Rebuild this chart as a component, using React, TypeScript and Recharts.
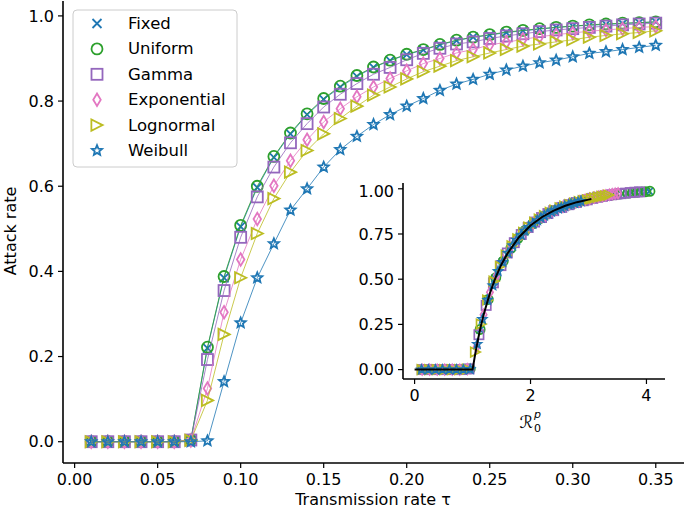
import React from "react";
import { ScatterChart, Scatter, XAxis, YAxis } from "recharts";

// transmission rate grid
const tau = [
  0.01, 0.02, 0.03, 0.04, 0.05, 0.06, 0.07, 0.08, 0.09, 0.1, 0.11, 0.12, 0.13, 0.14, 0.15, 0.16, 0.17, 0.18,
  0.19, 0.2, 0.21, 0.22, 0.23, 0.24, 0.25, 0.26, 0.27, 0.28, 0.29, 0.3, 0.31, 0.32, 0.33, 0.34, 0.35,
];

// attack rate per distribution
const fixed = [
  0, 0, 0, 0, 0, 0, 0.004, 0.22, 0.385, 0.505, 0.597, 0.668, 0.723, 0.768, 0.804, 0.833, 0.858, 0.879, 0.895,
  0.909, 0.92, 0.932, 0.942, 0.95, 0.955, 0.961, 0.965, 0.969, 0.973, 0.976, 0.978, 0.98, 0.982, 0.984, 0.986,
];
const uniform = [
  0, 0, 0, 0, 0, 0, 0.004, 0.222, 0.388, 0.508, 0.6, 0.67, 0.725, 0.77, 0.806, 0.835, 0.86, 0.88, 0.896, 0.91,
  0.921, 0.933, 0.943, 0.95, 0.956, 0.962, 0.966, 0.97, 0.973, 0.976, 0.979, 0.981, 0.983, 0.984, 0.986,
];
const gamma = [
  0, 0, 0, 0, 0, 0, 0.004, 0.193, 0.355, 0.48, 0.575, 0.645, 0.702, 0.747, 0.786, 0.816, 0.841, 0.863, 0.879,
  0.897, 0.912, 0.924, 0.934, 0.939, 0.947, 0.953, 0.958, 0.963, 0.967, 0.97, 0.973, 0.976, 0.979, 0.981, 0.983,
];
const exponential = [
  0, 0, 0, 0, 0, 0, 0.003, 0.125, 0.304, 0.428, 0.523, 0.601, 0.66, 0.709, 0.751, 0.782, 0.81, 0.833, 0.853,
  0.871, 0.888, 0.9, 0.913, 0.921, 0.932, 0.938, 0.945, 0.951, 0.956, 0.96, 0.964, 0.967, 0.97, 0.973, 0.975,
];
const lognormal = [
  0, 0, 0, 0, 0, 0, 0.003, 0.097, 0.252, 0.385, 0.489, 0.571, 0.633, 0.684, 0.723, 0.759, 0.788, 0.814, 0.833,
  0.852, 0.869, 0.882, 0.895, 0.904, 0.913, 0.921, 0.929, 0.934, 0.939, 0.944, 0.95, 0.954, 0.958, 0.961, 0.965,
];
const weibull = [
  0, 0, 0, 0, 0, 0, 0, 0.002, 0.141, 0.279, 0.385, 0.465, 0.544, 0.594, 0.645, 0.686, 0.717, 0.745, 0.768,
  0.788, 0.806, 0.825, 0.84, 0.851, 0.863, 0.873, 0.882, 0.89, 0.896, 0.904, 0.912, 0.916, 0.921, 0.926, 0.931,
];

// R0^p per point (inset x values)
const r0Fixed = [
  0.14, 0.27, 0.41, 0.54, 0.68, 0.81, 0.95, 1.13, 1.26, 1.39, 1.52, 1.65, 1.77, 1.9, 2.03, 2.15, 2.28, 2.4, 2.52,
  2.64, 2.75, 2.87, 2.98, 3.09, 3.2, 3.3, 3.4, 3.49, 3.58, 3.67, 3.75, 3.83, 3.91, 3.98, 4.05,
];
const r0Uniform = [
  0.14, 0.28, 0.41, 0.55, 0.69, 0.82, 0.96, 1.13, 1.27, 1.4, 1.53, 1.66, 1.78, 1.91, 2.04, 2.16, 2.29, 2.41, 2.53,
  2.65, 2.76, 2.88, 2.99, 3.1, 3.21, 3.31, 3.41, 3.5, 3.59, 3.68, 3.76, 3.84, 3.92, 3.99, 4.06,
];
const r0Gamma = [
  0.13, 0.27, 0.4, 0.53, 0.67, 0.8, 0.94, 1.11, 1.235, 1.36, 1.49, 1.6, 1.72, 1.84, 1.96, 2.07, 2.19, 2.3, 2.4,
  2.54, 2.66, 2.79, 2.91, 2.98, 3.07, 3.16, 3.24, 3.32, 3.4, 3.48, 3.56, 3.64, 3.72, 3.8, 3.88,
];
const r0Exponential = [
  0.13, 0.26, 0.39, 0.52, 0.65, 0.78, 0.91, 1.07, 1.19, 1.3, 1.42, 1.53, 1.63, 1.74, 1.85, 1.95, 2.05, 2.15, 2.25,
  2.35, 2.46, 2.56, 2.66, 2.76, 2.85, 2.94, 3.02, 3.1, 3.17, 3.24, 3.3, 3.36, 3.41, 3.46, 3.51,
];
const r0Lognormal = [
  0.13, 0.26, 0.39, 0.52, 0.65, 0.78, 0.91, 1.05, 1.15, 1.26, 1.37, 1.48, 1.58, 1.68, 1.78, 1.88, 1.97, 2.07, 2.15,
  2.24, 2.34, 2.42, 2.51, 2.59, 2.68, 2.76, 2.84, 2.91, 2.98, 3.05, 3.11, 3.17, 3.23, 3.29, 3.35,
];
const r0Weibull = [
  0.12, 0.24, 0.36, 0.48, 0.6, 0.72, 0.84, 0.96, 1.08, 1.17, 1.26, 1.35, 1.44, 1.52, 1.61, 1.69, 1.76, 1.84, 1.9,
  1.97, 2.04, 2.12, 2.18, 2.24, 2.3, 2.36, 2.42, 2.48, 2.53, 2.59, 2.66, 2.7, 2.76, 2.82, 2.87,
];

// theory curve in the inset
const curveR0 = [0, 1, 1.05, 1.1, 1.15, 1.2, 1.3, 1.4, 1.5, 1.6, 1.8, 2.0, 2.2, 2.4, 2.6, 2.8, 3.0, 3.05];
const curveZ = [0, 0, 0.094, 0.176, 0.25, 0.314, 0.423, 0.511, 0.583, 0.641, 0.732, 0.797, 0.844, 0.879, 0.906, 0.926, 0.94, 0.943];

const xTicks = [0, 0.05, 0.1, 0.15, 0.2, 0.25, 0.3, 0.35];
const yTicks = [0, 0.2, 0.4, 0.6, 0.8, 1.0];
const insetXTicks = [0, 2, 4];
const insetYTicks = [0, 0.25, 0.5, 0.75, 1.0];

type Kind = "x" | "o" | "s" | "d" | ">" | "*";

const SERIES: { name: string; kind: Kind; color: string; y: number[]; r0: number[] }[] = [
  { name: "Fixed", kind: "x", color: "#1f77b4", y: fixed, r0: r0Fixed },
  { name: "Uniform", kind: "o", color: "#2ca02c", y: uniform, r0: r0Uniform },
  { name: "Gamma", kind: "s", color: "#9467bd", y: gamma, r0: r0Gamma },
  { name: "Exponential", kind: "d", color: "#e377c2", y: exponential, r0: r0Exponential },
  { name: "Lognormal", kind: ">", color: "#bcbd22", y: lognormal, r0: r0Lognormal },
  { name: "Weibull", kind: "*", color: "#1f77b4", y: weibull, r0: r0Weibull },
];

const FONT = "DejaVu Sans, sans-serif";

function Marker({ kind, cx, cy, color, size, sw = 1.8 }: { kind: Kind; cx: number; cy: number; color: string; size: number; sw?: number }) {
  const h = size / 2;
  const common = { fill: "none", stroke: color, strokeWidth: sw };
  if (cx == null || cy == null) return <g />;
  switch (kind) {
    case "x": {
      const a = h * 0.72;
      return <path d={`M${cx - a},${cy - a}L${cx + a},${cy + a}M${cx - a},${cy + a}L${cx + a},${cy - a}`} {...common} />;
    }
    case "o":
      return <circle cx={cx} cy={cy} r={h * 0.88} {...common} />;
    case "s":
      return <rect x={cx - h * 0.88} y={cy - h * 0.88} width={h * 1.76} height={h * 1.76} {...common} />;
    case "d":
      return <path d={`M${cx},${cy - h}L${cx + h * 0.6},${cy}L${cx},${cy + h}L${cx - h * 0.6},${cy}Z`} {...common} />;
    case ">":
      return <path d={`M${cx + h * 0.9},${cy}L${cx - h * 0.9},${cy - h * 0.9}L${cx - h * 0.9},${cy + h * 0.9}Z`} {...common} />;
    case "*": {
      const pts: string[] = [];
      for (let i = 0; i < 10; i++) {
        const ang = (-90 + i * 36) * (Math.PI / 180);
        const r = i % 2 === 0 ? h * 0.85 : h * 0.38;
        pts.push(`${cx + r * Math.cos(ang)},${cy + r * Math.sin(ang)}`);
      }
      return <polygon points={pts.join(" ")} {...common} strokeLinejoin="miter" />;
    }
  }
  return <g />;
}

const tickStyle = { fontSize: 16, fill: "#000", fontFamily: FONT };
const axisLine = { stroke: "#000", strokeWidth: 1.6 };
const tickLine = { stroke: "#000", strokeWidth: 1.2 };

function MainChart() {
  const xDom: [number, number] = [-0.007, 0.367];
  const yDom: [number, number] = [-0.05, 1.035];
  return (
    <ScatterChart width={685} height={511} margin={{ top: 1, right: 1, left: 0, bottom: 0 }}>
      <XAxis dataKey="x" type="number" domain={xDom} ticks={xTicks} tickFormatter={(v) => v.toFixed(2)} height={48} tick={tickStyle} tickSize={5} tickMargin={6} axisLine={axisLine} tickLine={tickLine} allowDataOverflow />
      <YAxis dataKey="y" type="number" domain={yDom} ticks={yTicks} tickFormatter={(v) => v.toFixed(1)} width={63} tick={tickStyle} tickSize={5} tickMargin={4} axisLine={axisLine} tickLine={tickLine} allowDataOverflow />
      <XAxis xAxisId="top" orientation="top" type="number" domain={xDom} height={0} tick={false} tickLine={false} axisLine={axisLine} allowDataOverflow />
      <YAxis yAxisId="right" orientation="right" type="number" domain={yDom} width={0} tick={false} tickLine={false} axisLine={axisLine} allowDataOverflow />
      {SERIES.map((s) => (
        <Scatter
          key={s.name}
          name={s.name}
          data={tau.map((t, i) => ({ x: t, y: s.y[i] }))}
          line={{ stroke: s.color, strokeWidth: 0.8 }}
          lineType="joint"
          shape={(p: any) => <Marker kind={s.kind} cx={p.cx} cy={p.cy} color={s.color} size={12.5} />}
          isAnimationActive={false}
        />
      ))}
    </ScatterChart>
  );
}

function InsetChart() {
  const xDom: [number, number] = [-0.2, 4.32];
  const yDom: [number, number] = [-0.052, 1.032];
  return (
    <ScatterChart width={323} height={248} margin={{ top: 1, right: 1, left: 0, bottom: 0 }}>
      <XAxis dataKey="x" type="number" domain={xDom} ticks={insetXTicks} tickFormatter={(v) => String(v)} height={51} tick={tickStyle} tickSize={5} tickMargin={6} axisLine={axisLine} tickLine={tickLine} allowDataOverflow />
      <YAxis dataKey="y" type="number" domain={yDom} ticks={insetYTicks} tickFormatter={(v) => v.toFixed(2)} width={60} tick={tickStyle} tickSize={5} tickMargin={4} axisLine={axisLine} tickLine={tickLine} allowDataOverflow />
      <XAxis xAxisId="top" orientation="top" type="number" domain={xDom} height={0} tick={false} tickLine={false} axisLine={axisLine} allowDataOverflow />
      <YAxis yAxisId="right" orientation="right" type="number" domain={yDom} width={0} tick={false} tickLine={false} axisLine={axisLine} allowDataOverflow />
      {SERIES.map((s) => (
        <Scatter
          key={s.name}
          name={s.name}
          data={s.r0.map((r, i) => ({ x: r, y: s.y[i] }))}
          shape={(p: any) => <Marker kind={s.kind} cx={p.cx} cy={p.cy} color={s.color} size={10.5} sw={1.7} />}
          isAnimationActive={false}
        />
      ))}
      <Scatter
        name="theory"
        data={curveR0.map((r, i) => ({ x: r, y: curveZ[i] }))}
        line={{ stroke: "#000", strokeWidth: 2 }}
        lineType="joint"
        shape={() => <g />}
        isAnimationActive={false}
      />
    </ScatterChart>
  );
}

function Overlay() {
  const rowY = (i: number) => 23.5 + i * 25.4;
  return (
    <svg width={685} height={511} style={{ position: "absolute", left: 0, top: 0, pointerEvents: "none" }} fontFamily={FONT}>
      <rect x={73} y={10} width={164} height={157} rx={4} fill="#fff" fillOpacity={0.8} stroke="#cccccc" strokeWidth={1} />
      {SERIES.map((s, i) => (
        <g key={s.name}>
          <Marker kind={s.kind} cx={97} cy={rowY(i)} color={s.color} size={12.5} />
          <text x={128} y={rowY(i)} dominantBaseline="central" fontSize={16.5} fill="#000">
            {s.name}
          </text>
        </g>
      ))}
      <text x={10} y={231} fontSize={16} textAnchor="middle" dominantBaseline="central" transform="rotate(-90 10 231)" fill="#000">
        Attack rate
      </text>
      <text x={373} y={505} fontSize={16} textAnchor="middle" fill="#000">
        Transmission rate τ
      </text>
      <text x={533} y={428} fontSize={17} textAnchor="end" fill="#000" fontStyle="italic">
        ℛ
      </text>
      <text x={534} y={418} fontSize={11} fill="#000" fontStyle="italic">
        p
      </text>
      <text x={534} y={432} fontSize={11} fill="#000">
        0
      </text>
    </svg>
  );
}

export default function App() {
  return (
    <div style={{ position: "relative", width: 685, height: 511, background: "#fff", fontFamily: FONT }}>
      <style>{"body{margin:0}"}</style>
      <MainChart />
      <div style={{ position: "absolute", left: 343, top: 182 }}>
        <InsetChart />
      </div>
      <Overlay />
    </div>
  );
}
